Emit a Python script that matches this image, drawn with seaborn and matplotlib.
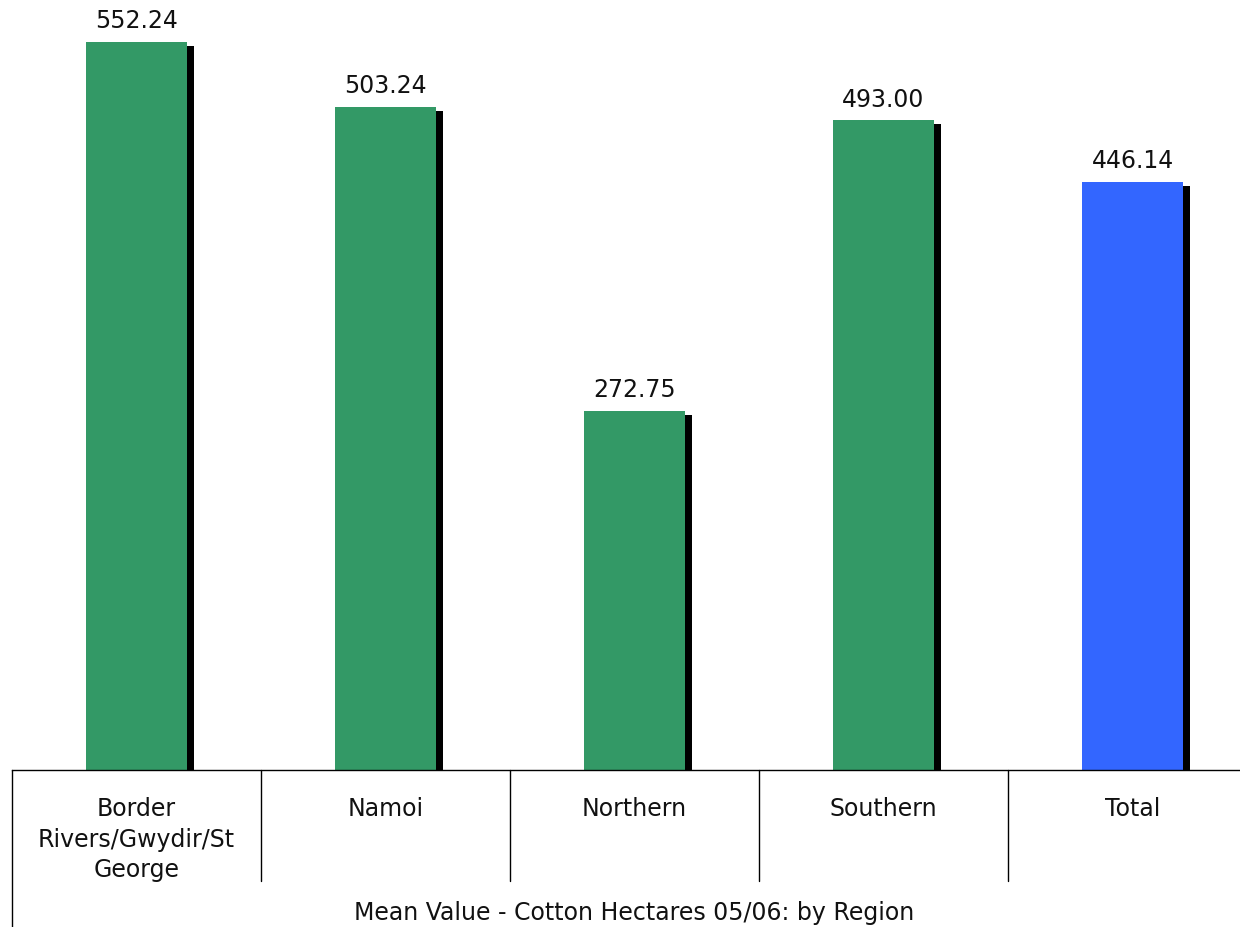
import matplotlib
matplotlib.use("Agg")
import matplotlib.pyplot as plt
import matplotlib.transforms as mtransforms
import seaborn as sns
import pandas as pd

# -----------------------------
# Data
# -----------------------------
regions = ["Border\nRivers/Gwydir/St\nGeorge", "Namoi", "Northern", "Southern", "Total"]
mean_hectares = [552.24, 503.24, 272.75, 493.00, 446.14]
bar_colors = ["#339966", "#339966", "#339966", "#339966", "#3366FF"]
title = "Mean Value - Cotton Hectares 05/06: by Region"

df = pd.DataFrame({"region": regions, "value": mean_hectares})

# -----------------------------
# Figure
# -----------------------------
sns.set_style("white")
plt.rcParams["font.family"] = ["DejaVu Sans"]

W, H, DPI = 1240, 928, 100
fig = plt.figure(figsize=(W / DPI, H / DPI), dpi=DPI)
ax = fig.add_axes([12 / W, 157 / H, 1245 / W, 771 / H])

bar_w = 0.405
fs = 17

# shadow bars first (black, shifted right/down)
sns.barplot(data=df, x="region", y="value", color="black", width=bar_w,
            saturation=1, ax=ax, zorder=1)
shift = mtransforms.ScaledTranslation(7 / DPI, -4 / DPI, fig.dpi_scale_trans)
for p in ax.patches:
    p.set_transform(ax.transData + shift)
    p.set_edgecolor("none")
n_shadow = len(ax.containers)

# main bars
sns.barplot(data=df, x="region", y="value", hue="region", palette=bar_colors,
            legend=False, width=bar_w, saturation=1, ax=ax, zorder=2)
for cont in ax.containers[n_shadow:]:
    for p in cont:
        p.set_edgecolor("none")
    ax.bar_label(cont, fmt="%.2f", padding=7, fontsize=fs, color="#111111")

ax.set_ylim(0, 585)
ax.set_xlim(-0.5, len(regions) - 0.5)
ax.set_ylabel("")
ax.set_xlabel("")
ax.set_yticks([])
ax.tick_params(axis="x", length=0, pad=19, labelsize=fs, labelcolor="#111111")
for lbl in ax.get_xticklabels():
    lbl.set_linespacing(1.33)
for s in ["top", "right", "left"]:
    ax.spines[s].set_visible(False)
ax.spines["bottom"].set_color("black")
ax.spines["bottom"].set_linewidth(1.0)

# category separators below axis
trans = mtransforms.blended_transform_factory(ax.transData, ax.transAxes)
for i in range(len(regions)):
    x = i - 0.5
    y_end = -157 / 771 if i == 0 else -111 / 771
    ax.plot([x, x], [0, y_end], transform=trans, color="black", lw=1.0,
            clip_on=False)

# title at bottom, centred under axes
pos = ax.get_position()
fig.text((pos.x0 + pos.x1) / 2, 15 / H, title, ha="center", va="center",
         fontsize=fs, color="#111111")

plt.savefig("out.png", dpi=DPI)
